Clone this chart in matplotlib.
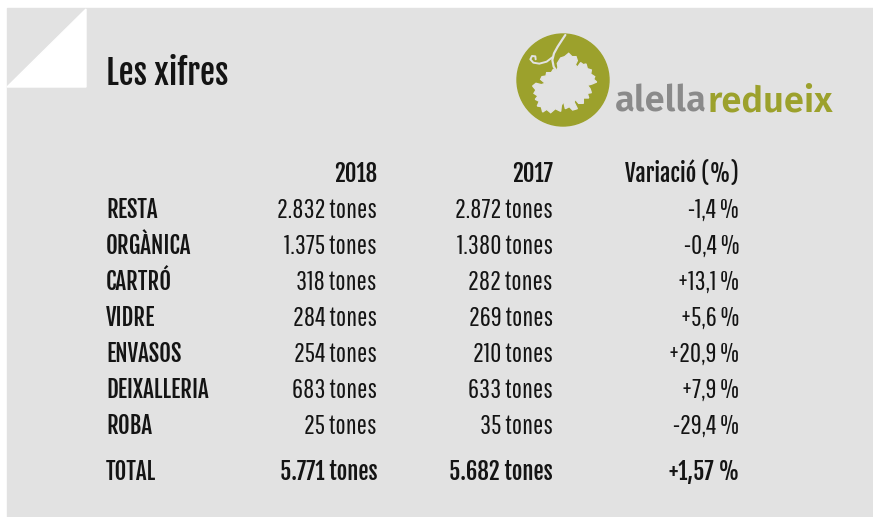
import matplotlib

matplotlib.use("Agg")

import matplotlib.pyplot as plt
import numpy as np
from matplotlib.font_manager import FontProperties
from matplotlib.patches import Circle, Polygon, Rectangle
from matplotlib.textpath import TextPath

# --- data ---
title = "Les xifres"
year_headers = ["2018", "2017"]
change_header = "Variació (%)"
categories = ["RESTA", "ORGÀNICA", "CARTRÓ", "VIDRE", "ENVASOS", "DEIXALLERIA", "ROBA"]
tons_2018 = [2832, 1375, 318, 284, 254, 683, 25]
tons_2017 = [2872, 1380, 282, 269, 210, 633, 35]
change_pct = [-1.4, -0.4, 13.1, 5.6, 20.9, 7.9, -29.4]
total_label = "TOTAL"
total_2018 = 5771
total_2017 = 5682
total_change = 1.57
logo_words = ["alella", "redueix"]

# --- style ---
PANEL = "#e2e2e2"
INK = "#141414"
OLIVE = "#9ca12c"
GREY = "#8a8a8a"
BOLD = ["Fjalla One", "DejaVu Sans"]
REG = ["Pathway Gothic One", "DejaVu Sans"]
LOGO = ["Fira Sans", "DejaVu Sans"]


def px(size_px):
    return size_px * 72 / 100


def fmt_tons(v):
    return f"{v:,}".replace(",", ".") + " tones"


def fmt_pct(v, nd=1):
    sign = "+" if v > 0 else "-"
    return sign + f"{abs(v):.{nd}f}".replace(".", ",") + " %"


fig = plt.figure(figsize=(8.73, 5.17), dpi=100)
fig.patch.set_facecolor("white")
ax = fig.add_axes([0, 0, 1, 1])
ax.set_xlim(0, 873)
ax.set_ylim(517, 0)
ax.axis("off")

# panel with folded corner
ax.add_patch(Rectangle((7, 8), 866, 509, color=PANEL, zorder=0))
ax.add_patch(Polygon([(7, 87), (86, 9), (86, 87)], closed=True, color="white", zorder=1))

ax.text(106, 85, title, family=BOLD, fontsize=px(33.6), color=INK, va="baseline", ha="left")

# logo: olive disc with a vine leaf and tendril cut out
ax.add_patch(Circle((563, 80), 46, color=OLIVE, zorder=2))
leaf_z = [(136, 100), (146, 84), (158, 80), (170, 70), (180, 80), (192, 80), (196, 92), (190, 104),
          (196, 112), (206, 98), (214, 104), (222, 102), (226, 116), (238, 120), (236, 132),
          (248, 140), (245, 148), (254, 156), (240, 162), (226, 166), (234, 176), (238, 188),
          (226, 190), (230, 204), (214, 204), (214, 220), (200, 220), (190, 208), (186, 216),
          (196, 236), (182, 240), (172, 230), (160, 236), (155, 214), (148, 226), (146, 244),
          (130, 236), (116, 248), (104, 238), (92, 246), (88, 230), (76, 228), (82, 214),
          (70, 208), (78, 198), (66, 190), (72, 180), (62, 168), (72, 160), (88, 164),
          (100, 160), (86, 148), (90, 140), (102, 138), (104, 128), (118, 128), (124, 118),
          (134, 124), (138, 112)]
to_px = lambda pts: np.array(pts, dtype=float) / 3 + (512, 30)
ax.add_patch(Polygon(to_px(leaf_z), closed=True, color=PANEL, zorder=3))
stem = to_px([(160, 15), (150, 30), (137, 50), (126, 70), (121, 90), (125, 110), (135, 125)])
ax.plot(stem[:, 0], stem[:, 1], color=PANEL, lw=1.6, zorder=3, solid_capstyle="round")
curl = to_px([(121, 82), (104, 95), (82, 101), (64, 98), (55, 88), (60, 78), (70, 79), (71, 88)])
ax.plot(curl[:, 0], curl[:, 1], color=PANEL, lw=1.4, zorder=3, solid_capstyle="round")

# logo words, fitted to the reference width
fp = FontProperties(family=LOGO, weight=600)
ink_w = TextPath((0, 0), "".join(logo_words), size=100, prop=fp).get_extents().width
logo_px = 217 * 100 / ink_w
t_a = ax.text(615, 111, logo_words[0], family=LOGO, weight=600, fontsize=px(logo_px),
              color=GREY, va="baseline", ha="left")
fig.canvas.draw()
w_a = t_a.get_window_extent().width
ax.text(615 + w_a, 111, logo_words[1], family=LOGO, weight=600, fontsize=px(logo_px),
        color=OLIVE, va="baseline", ha="left")

# table
x_label, x_2018, x_2017, x_change = 106, 377, 553, 739
bold_kw = dict(family=BOLD, fontsize=px(22.8), color=INK, va="baseline")
reg_kw = dict(family=REG, fontsize=px(27.1), color=INK, va="baseline")

ax.text(x_2018, 182, year_headers[0], ha="right", **bold_kw)
ax.text(x_2017, 182, year_headers[1], ha="right", **bold_kw)
ax.text(x_change, 182, change_header, ha="right", **bold_kw)

for i, cat in enumerate(categories):
    y = 218 + 36 * i
    ax.text(x_label, y, cat, ha="left", **bold_kw)
    ax.text(x_2018, y, fmt_tons(tons_2018[i]), ha="right", **reg_kw)
    ax.text(x_2017, y, fmt_tons(tons_2017[i]), ha="right", **reg_kw)
    ax.text(x_change, y, fmt_pct(change_pct[i]), ha="right", **reg_kw)

y_tot = 480
ax.text(x_label, y_tot, total_label, ha="left", **bold_kw)
ax.text(x_2018, y_tot, fmt_tons(total_2018), ha="right", **bold_kw)
ax.text(x_2017, y_tot, fmt_tons(total_2017), ha="right", **bold_kw)
ax.text(x_change, y_tot, fmt_pct(total_change, 2), ha="right", **bold_kw)

fig.savefig("out.png", dpi=100)
plt.close(fig)
